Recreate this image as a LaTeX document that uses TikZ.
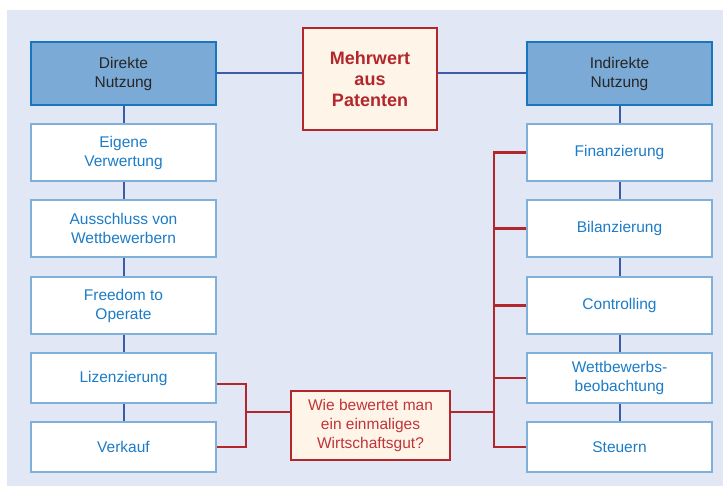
\documentclass[tikz,border=0pt]{standalone}
\usepackage{fontspec}
\setmainfont{Liberation Sans}
\usepackage{tikz}
\definecolor{bgblue}{RGB}{225,231,244}
\definecolor{headfill}{RGB}{122,170,213}
\definecolor{headline}{RGB}{26,117,191}
\definecolor{boxline}{RGB}{127,176,218}
\definecolor{txtblue}{RGB}{28,124,199}
\definecolor{linkblue}{RGB}{61,92,168}
\definecolor{linkred}{RGB}{178,38,44}
\definecolor{txtred}{RGB}{192,52,58}
\definecolor{cream}{RGB}{254,245,232}
\newcommand{\drawblue}{\draw[line width=2pt, linkblue]}
\newcommand{\drawred}{\draw[line width=2.2pt, linkred]}
\tikzset{
  head/.style={draw=headline, fill=headfill, line width=2.2pt, minimum width=185pt,
    minimum height=63pt, text=black!85, align=center, inner sep=0pt},
  item/.style={draw=boxline, fill=white, line width=2pt, minimum width=185pt,
    text=txtblue, align=center, inner sep=0pt},
  tallitem/.style={item, minimum height=57pt},
  lowitem/.style={item, minimum height=50pt},
  redbox/.style={draw=linkred, fill=cream, line width=2.6pt, align=center, inner sep=0pt}
}

\begin{document}
\begin{tikzpicture}[x=1pt, y=-1pt, font=\fontsize{15.5}{19}\selectfont]
\useasboundingbox (0,0) rectangle (723,486);
\fill[bgblue] (7,10) rectangle (723,486);
% linke Spalte
\node[head] (dn) at (123.5,73.5) {Direkte\\Nutzung};
\node[tallitem] (ev) at (123.5,152.5) {Eigene\\Verwertung};
\node[tallitem] (aw) at (123.5,228.5) {Ausschluss von\\Wettbewerbern};
\node[tallitem] (fo) at (123.5,305.5) {Freedom to\\Operate};
\node[lowitem] (li) at (123.5,378) {Lizenzierung};
\node[lowitem] (vk) at (123.5,447) {Verkauf};
% rechte Spalte
\node[head] (in) at (619.5,73.5) {Indirekte\\Nutzung};
\node[tallitem] (fi) at (619.5,152.5) {Finanzierung};
\node[tallitem] (bi) at (619.5,228.5) {Bilanzierung};
\node[tallitem] (co) at (619.5,305.5) {Controlling};
\node[lowitem] (wt) at (619.5,378) {Wettbewerbs-\\beobachtung};
\node[lowitem] (st) at (619.5,447) {Steuern};
% Mitte
\node[redbox, minimum width=134pt, minimum height=102pt, text=linkred,
  font=\bfseries\fontsize{18}{21}\selectfont] (mw) at (370,79) {Mehrwert\\aus\\Patenten};
\node[redbox, minimum width=159pt, minimum height=69pt, text=txtred] (wb) at (370.5,425.5)
  {Wie bewertet man\\ein einmaliges\\Wirtschaftsgut?};
\drawblue (dn.east) -- (dn.east -| mw.west);
\drawblue (in.west) -- (in.west -| mw.east);
\foreach \a/\b in {dn/ev,ev/aw,aw/fo,fo/li,li/vk,in/fi,fi/bi,bi/co,co/wt,wt/st}{
  \drawblue (\a) -- (\b);
}
\coordinate (lb) at (246,412);
\coordinate (rb) at (494,412);
\drawred ([yshift=-6pt]li.east) -| (lb) |- (vk.east);
\drawred (lb) -- (lb -| wb.west);
\drawred (fi.west) -| (rb |- st.west) -- (st.west);
\foreach \n in {bi,co,wt}{
  \drawred (\n.west) -- (\n.west -| rb);
}
\drawred (rb) -- (rb -| wb.east);
\end{tikzpicture}
\end{document}
